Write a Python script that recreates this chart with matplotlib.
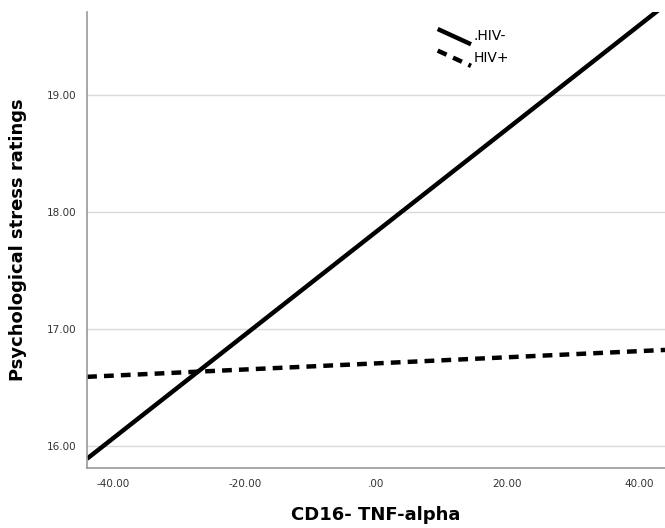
import matplotlib
matplotlib.use("Agg")
import matplotlib.pyplot as plt
from matplotlib.legend_handler import HandlerBase
from matplotlib.lines import Line2D
import numpy as np

# regression lines (endpoints)
x_range = [-44.0, 44.0]
hiv_neg = [15.89, 19.77]
hiv_pos = [16.59, 16.82]
labels = [".HIV-", "HIV+"]
xticks = [-40, -20, 0, 20, 40]
xtick_labels = ["-40.00", "-20.00", ".00", "20.00", "40.00"]
yticks = [16, 17, 18, 19]
ytick_labels = ["16.00", "17.00", "18.00", "19.00"]


class SlantHandler(HandlerBase):
    # SPSS draws the legend samples as short slanted strokes
    def create_artists(self, legend, orig_handle, xdescent, ydescent,
                       width, height, fontsize, trans):
        line = Line2D([-xdescent, -xdescent + width],
                      [height + 1, -ydescent - 3])
        line.update_from(orig_handle)
        line.set_transform(trans)
        return [line]


fig = plt.figure(figsize=(6.65, 5.28), dpi=100)
ax = fig.add_axes([0.131, 0.1136, 0.869, 0.8636])

l1, = ax.plot(x_range, hiv_neg, color="black", lw=3.2, solid_capstyle="butt")
l2, = ax.plot(x_range, hiv_pos, color="black", lw=3.2, ls=(0, (2.2, 1.6)))

ax.set_xlim(-44, 44)
ax.set_ylim(15.81, 19.71)
ax.set_xticks(xticks)
ax.set_xticklabels(xtick_labels)
ax.set_yticks(yticks)
ax.set_yticklabels(ytick_labels)
ax.tick_params(length=0, labelsize=7.5, colors="#333333", pad=8)
ax.grid(axis="y", color="#d9d9d9", lw=1)
ax.set_axisbelow(True)
for s in ["top", "right"]:
    ax.spines[s].set_visible(False)
for s in ["left", "bottom"]:
    ax.spines[s].set_color("#999999")
    ax.spines[s].set_linewidth(1.2)

ax.set_xlabel("CD16- TNF-alpha", fontsize=13, fontweight="bold", labelpad=12)
ax.set_ylabel("Psychological stress ratings", fontsize=13, fontweight="bold", labelpad=14)

ax.legend([l1, l2], labels, handler_map={Line2D: SlantHandler()},
          loc="upper left", bbox_to_anchor=(0.585, 0.99), frameon=False,
          fontsize=10, handlelength=2.4, handletextpad=0.2, labelspacing=0.55)

fig.savefig("out.png", dpi=100)
